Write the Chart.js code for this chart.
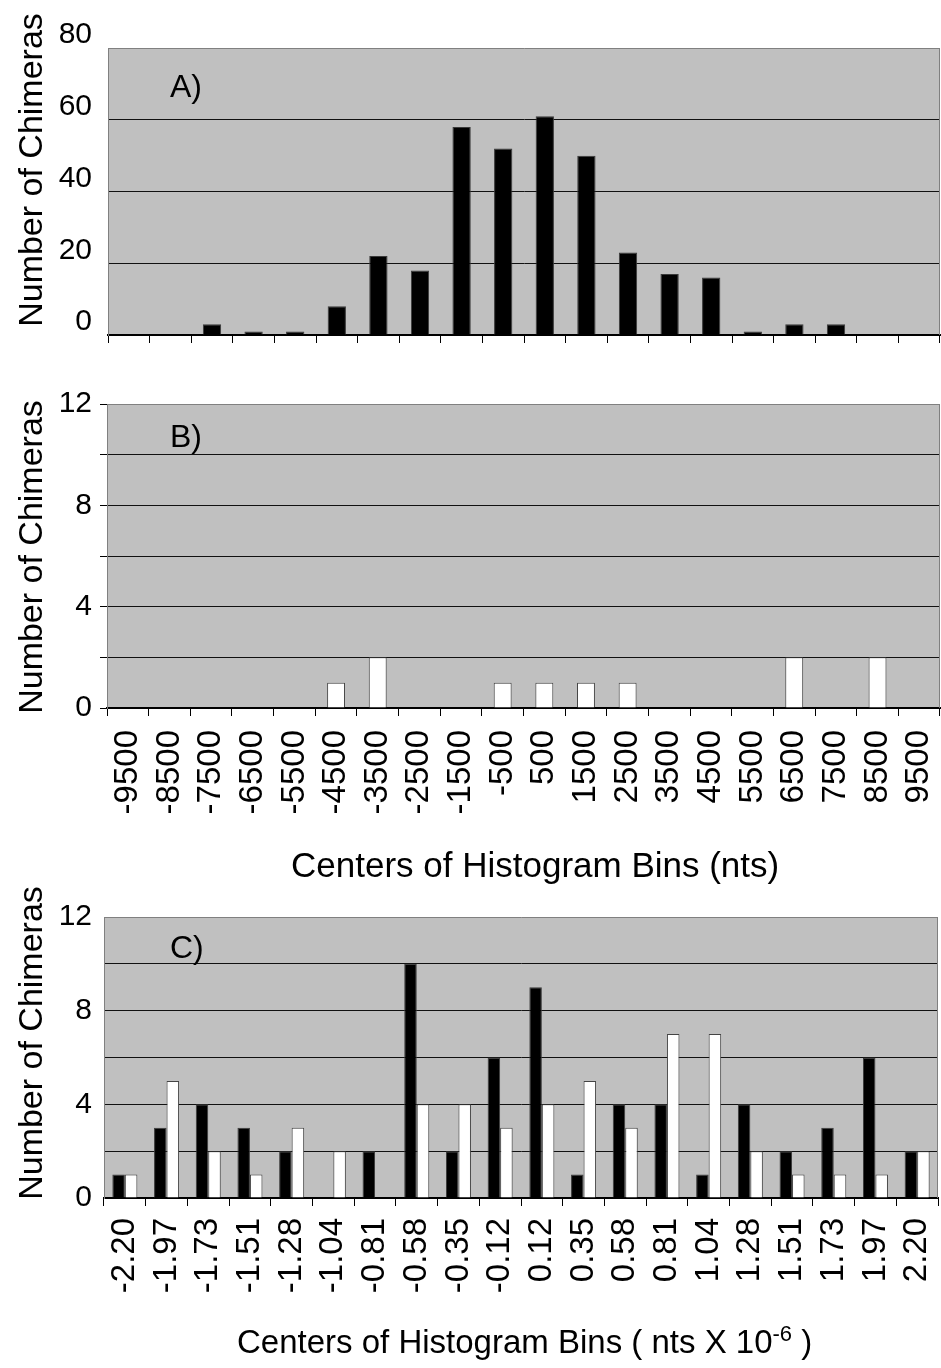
<!DOCTYPE html>
<html>
<head>
<meta charset="utf-8">
<title>Chimera histograms</title>
<script src="https://cdn.jsdelivr.net/npm/chart.js@4.4.1/dist/chart.umd.min.js"></script>
<style>
  html, body { margin: 0; padding: 0; background: #fff; }
  .page { position: relative; width: 941px; height: 1368px; overflow: hidden; }
  .page canvas { position: absolute; left: 0; }
</style>
</head>
<body>
<div class="page">
  <canvas id="chartA" width="941" height="350" style="top:0px"></canvas>
  <canvas id="chartB" width="941" height="535" style="top:350px"></canvas>
  <canvas id="chartC" width="941" height="483" style="top:885px"></canvas>
</div>
<script>
// bin centres (nts) shared by panels A and B
const binCentersNts = ['-9500', '-8500', '-7500', '-6500', '-5500', '-4500', '-3500', '-2500', '-1500', '-500',
  '500', '1500', '2500', '3500', '4500', '5500', '6500', '7500', '8500', '9500'];
const countsA = [0, 0, 3, 1, 1, 8, 22, 18, 58, 52, 61, 50, 23, 17, 16, 1, 3, 3, 0, 0];
const countsB = [0, 0, 0, 0, 0, 1, 2, 0, 0, 1, 1, 1, 1, 0, 0, 0, 2, 0, 2, 0];

// bin centres (nts x 10^-6) for panel C
const binCentersScaled = ['-2.20', '-1.97', '-1.73', '-1.51', '-1.28', '-1.04', '-0.81', '-0.58', '-0.35', '-0.12',
  '0.12', '0.35', '0.58', '0.81', '1.04', '1.28', '1.51', '1.73', '1.97', '2.20'];
const countsCBlack = [1, 3, 4, 3, 2, 0, 2, 10, 2, 6, 9, 1, 4, 4, 1, 4, 2, 3, 6, 2];
const countsCWhite = [1, 5, 2, 1, 3, 2, 0, 4, 4, 3, 4, 5, 3, 7, 7, 2, 1, 1, 1, 2];

const FONT = '"Liberation Sans", Arial, Helvetica, sans-serif';
const PLOT_BG = '#c0c0c0';
const FRAME = '#808080';

// grey plot background + right-hand frame line
const plotFrame = {
  id: 'plotFrame',
  beforeDraw(chart) {
    const { ctx, chartArea: a } = chart;
    ctx.save();
    ctx.fillStyle = PLOT_BG;
    ctx.fillRect(a.left, a.top, a.right - a.left, a.bottom - a.top);
    ctx.restore();
  },
  afterDraw(chart) {
    const { ctx, chartArea: a } = chart;
    ctx.save();
    ctx.strokeStyle = FRAME;
    ctx.lineWidth = 1;
    ctx.beginPath();
    ctx.moveTo(Math.round(a.right) - 0.5, a.top);
    ctx.lineTo(Math.round(a.right) - 0.5, a.bottom);
    ctx.stroke();
    ctx.restore();
  }
};

// panel letter and axis titles (the x title of C needs a superscript)
const panelText = {
  id: 'panelText',
  afterDraw(chart, args, opts) {
    const { ctx } = chart;
    ctx.save();
    ctx.fillStyle = '#000';
    ctx.textBaseline = 'alphabetic';
    ctx.textAlign = 'left';

    ctx.font = '32px ' + FONT;
    ctx.fillText(opts.letter, opts.letterX, opts.letterY);

    if (opts.xTitle) {
      let x = opts.xTitleX;
      opts.xTitle.forEach((part) => {
        ctx.font = part.size + 'px ' + FONT;
        ctx.fillText(part.text, x, opts.xTitleY - (part.rise || 0));
        x += ctx.measureText(part.text).width;
      });
    }

    ctx.translate(opts.yTitleX, opts.yTitleY);
    ctx.rotate(-Math.PI / 2);
    ctx.textAlign = 'center';
    ctx.font = '34px ' + FONT;
    ctx.fillText('Number of Chimeras', 0, 0);
    ctx.restore();
  }
};

function yAxis(max, step, labelEvery, width, padding, tickLength, labelOffset) {
  return {
    min: 0,
    max: max,
    ticks: {
      stepSize: step,
      callback: (v) => (v % labelEvery === 0 ? v : ''),
      font: { family: FONT, size: 30 },
      color: '#000',
      padding: padding,
      labelOffset: labelOffset
    },
    grid: {
      color: (c) => (c.tick && c.tick.value === max ? FRAME : '#111'),
      lineWidth: 1,
      drawTicks: tickLength > 0,
      tickLength: tickLength,
      tickColor: '#000'
    },
    border: { color: FRAME, width: 1 },
    afterFit: (s) => {
      s.width = width;
      s.paddingTop = 0;
      s.paddingBottom = 0;
    }
  };
}

function xAxis(showLabels, height, padding) {
  return {
    offset: true,
    grid: {
      offset: true,
      drawOnChartArea: false,
      drawTicks: true,
      tickLength: 8,
      color: '#000',
      tickColor: '#000'
    },
    border: { color: '#000', width: 2 },
    ticks: {
      display: showLabels,
      autoSkip: false,
      minRotation: 90,
      maxRotation: 90,
      padding: padding,
      font: { family: FONT, size: 33 },
      color: '#000'
    },
    afterFit: (s) => {
      s.height = height;
      s.paddingLeft = 0;
      s.paddingRight = 0;
    }
  };
}

const common = {
  responsive: false,
  animation: false,
  events: [],
  plugins: { legend: { display: false }, tooltip: { enabled: false } }
};

new Chart(document.getElementById('chartA'), {
  type: 'bar',
  data: {
    labels: binCentersNts,
    datasets: [{
      data: countsA,
      backgroundColor: '#000',
      borderColor: '#3a3a3a',
      borderWidth: 1,
      barPercentage: 0.44,
      categoryPercentage: 1
    }]
  },
  options: {
    ...common,
    layout: { padding: { top: 48, right: 1, left: 0, bottom: 0 } },
    scales: {
      x: xAxis(false, 15, 0),
      y: yAxis(80, 20, 20, 108, 16, 0, -13)
    },
    plugins: {
      ...common.plugins,
      panelText: { letter: 'A)', letterX: 170, letterY: 97, yTitleX: 42, yTitleY: 170 }
    }
  },
  plugins: [plotFrame, panelText]
});

new Chart(document.getElementById('chartB'), {
  type: 'bar',
  data: {
    labels: binCentersNts,
    datasets: [{
      data: countsB,
      backgroundColor: '#fff',
      borderColor: '#444',
      borderWidth: 1,
      barPercentage: 0.43,
      categoryPercentage: 1
    }]
  },
  options: {
    ...common,
    layout: { padding: { top: 54, right: 1, left: 0, bottom: 0 } },
    scales: {
      x: xAxis(true, 177, 14),
      y: yAxis(12, 2, 4, 107, 8, 7, 0)
    },
    plugins: {
      ...common.plugins,
      panelText: {
        letter: 'B)', letterX: 170, letterY: 97, yTitleX: 42, yTitleY: 207,
        xTitleX: 291, xTitleY: 527,
        xTitle: [{ text: 'Centers of Histogram Bins (nts)', size: 35 }]
      }
    }
  },
  plugins: [plotFrame, panelText]
});

new Chart(document.getElementById('chartC'), {
  type: 'bar',
  data: {
    labels: binCentersScaled,
    datasets: [
      {
        data: countsCBlack,
        backgroundColor: '#000',
        borderColor: '#3a3a3a',
        borderWidth: 1,
        barPercentage: 1,
        categoryPercentage: 0.6
      },
      {
        data: countsCWhite,
        backgroundColor: '#fff',
        borderColor: '#444',
        borderWidth: 1,
        barPercentage: 1,
        categoryPercentage: 0.6
      }
    ]
  },
  options: {
    ...common,
    layout: { padding: { top: 32, right: 3, left: 0, bottom: 0 } },
    scales: {
      x: xAxis(true, 170, 12),
      y: yAxis(12, 2, 4, 104, 12, 0, 0)
    },
    plugins: {
      ...common.plugins,
      panelText: {
        letter: 'C)', letterX: 170, letterY: 73, yTitleX: 42, yTitleY: 158,
        xTitleX: 237, xTitleY: 468,
        xTitle: [
          { text: 'Centers of Histogram Bins ( nts X 10', size: 33 },
          { text: '-6', size: 22, rise: 12 },
          { text: ' )', size: 33 }
        ]
      }
    }
  },
  plugins: [plotFrame, panelText]
});
</script>
</body>
</html>
